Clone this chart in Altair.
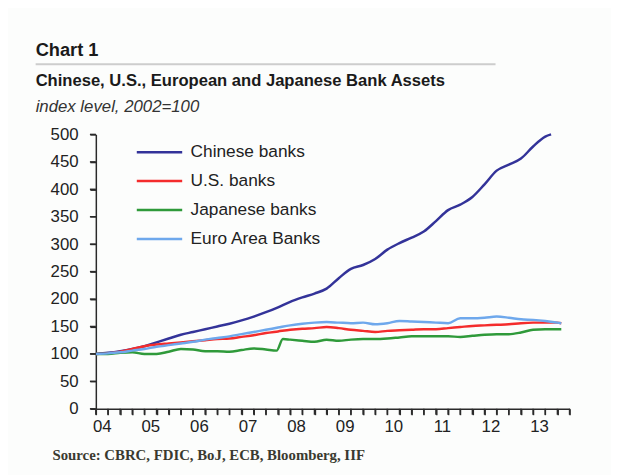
import altair as alt
import pandas as pd

# ---- data (index level, 2002=100) ----
series_names = ["Chinese banks", "U.S. banks", "Japanese banks", "Euro Area Banks"]
series_colors = ["#333399", "#f42c2c", "#2f9a3a", "#6ea8ec"]

q_years = [2004 + 0.25 * i for i in range(39)]  # quarterly, 2004.00 .. 2013.50

chinese_years = q_years[:38] + [2013.37]
chinese_vals = [100, 102, 105, 109, 114, 121, 128, 135, 140, 145, 150, 155,
                161, 168, 176, 185, 195, 203, 210, 219, 238, 255, 262, 273,
                290, 302, 312, 323, 342, 362, 372, 386, 409, 434, 445, 456,
                478, 496, 500]

us_years = q_years + [2013.58]
us_vals = [100, 101, 104, 109, 114, 117, 119, 121, 123, 125, 127, 128,
           131, 134, 138, 141, 144, 146, 147, 149, 147, 144, 142, 140,
           142, 143, 144, 145, 145, 147, 149, 151, 152, 153, 154, 156,
           157, 157, 157, 156]

japan_years = q_years[:15] + [2007.72, 2007.85] + q_years[16:] + [2013.58]
japan_vals = [100, 100, 102, 103, 100, 100, 104, 109, 108, 105, 105, 104,
              107, 110, 108, 106, 127, 126, 124, 122, 126, 124, 126, 127, 127,
              128, 130, 132, 132, 132, 132, 131, 133, 135, 136, 136, 139,
              144, 145, 145, 145]

euro_years = q_years + [2013.58]
euro_vals = [100, 101, 103, 106, 109, 113, 116, 119, 122, 126, 129, 132,
             136, 140, 144, 148, 152, 155, 157, 158, 157, 156, 157, 154,
             156, 160, 159, 158, 157, 156, 165, 165, 166, 168, 166, 163,
             162, 160, 157, 156]

y_ticks = [0, 50, 100, 150, 200, 250, 300, 350, 400, 450, 500]
x_ticks = [2004 + 0.25 * i for i in range(40)]

title_text = ["Chart 1"]
subtitle_text = ["Chinese, U.S., European and Japanese Bank Assets"]
unit_text = ["index level, 2002=100"]
source_text = ["Source: CBRC, FDIC, BoJ, ECB, Bloomberg, IIF"]

rows = []
for name, yrs, vals in [
    (series_names[0], chinese_years, chinese_vals),
    (series_names[1], us_years, us_vals),
    (series_names[2], japan_years, japan_vals),
    (series_names[3], euro_years, euro_vals),
]:
    for yr, v in zip(yrs, vals):
        rows.append({"series": name, "year": yr, "value": v})
df = pd.DataFrame(rows)

FONT = "Liberation Sans"
AX = "#2a2a2a"
H = 278

xscale = alt.Scale(domain=[2004, 2013.75], nice=False, zero=False)
yscale = alt.Scale(domain=[0, 500], nice=False)

# one axis definition shared by every layer, so the merged axis keeps it
x_axis = alt.Axis(values=x_ticks, title=None, grid=False,
                  ticks=True, tickSize=6, tickWidth=1.5, tickColor=AX,
                  domain=True, domainColor=AX, domainWidth=1.5,
                  labelPadding=4, labelOffset=6, labelOverlap=False,
                  labelFlush=False,
                  labelExpr="(datum.value % 1 == 0 && datum.value < 2013.9) ? slice(toString(datum.value), 2, 4) : ''")
y_axis = alt.Axis(values=y_ticks, title=None, grid=False,
                  ticks=True, tickSize=6, tickWidth=1.5, tickColor=AX,
                  domain=True, domainColor=AX, domainWidth=1.5,
                  labelPadding=12, labelOverlap=False)

lines = alt.Chart(df).mark_line(strokeWidth=2.5, interpolate="monotone").encode(
    x=alt.X("year:Q", scale=xscale, axis=x_axis),
    y=alt.Y("value:Q", scale=yscale, axis=y_axis),
    color=alt.Color("series:N",
                    scale=alt.Scale(domain=series_names, range=series_colors),
                    sort=series_names,
                    legend=alt.Legend(title=None, orient="none", legendX=40, legendY=8,
                                      symbolType="stroke", symbolSize=2116,
                                      symbolStrokeWidth=2.5, clipHeight=20,
                                      rowPadding=9.3, labelOffset=7,
                                      labelFontSize=17.5, labelFont=FONT,
                                      labelColor="#222222", padding=0)),
    detail="series:N",
)

# tick marks drawn through the same scales
xtick_marks = alt.Chart(pd.DataFrame({"v": x_ticks})).mark_tick(
    color=AX, thickness=1.5, size=6, orient="vertical", opacity=1).encode(
    x=alt.X("v:Q", scale=xscale, axis=x_axis), y=alt.value(H + 3))

ytick_marks = alt.Chart(pd.DataFrame({"v": y_ticks})).mark_tick(
    color=AX, thickness=1.5, size=6, orient="horizontal", opacity=1).encode(
    y=alt.Y("v:Q", scale=yscale, axis=y_axis), x=alt.value(-3))

title = alt.Chart(pd.DataFrame({"t": title_text})).mark_text(
    font=FONT, fontSize=18.5, fontWeight="bold", color="#1a1a1a",
    align="left", baseline="alphabetic").encode(
    text="t:N", x=alt.value(-61), y=alt.value(-79.5))

rule = alt.Chart(pd.DataFrame({"t": title_text})).mark_rule(
    color="#cdcdcd", strokeWidth=2).encode(
    x=alt.value(-61), x2=alt.value(405), y=alt.value(-71))

subtitle = alt.Chart(pd.DataFrame({"t": subtitle_text})).mark_text(
    font=FONT, fontSize=16.8, fontWeight="bold", color="#1a1a1a",
    align="left", baseline="alphabetic").encode(
    text="t:N", x=alt.value(-61), y=alt.value(-49))

unit = alt.Chart(pd.DataFrame({"t": unit_text})).mark_text(
    font=FONT, fontSize=17, fontStyle="italic", color="#333333",
    align="left", baseline="alphabetic").encode(
    text="t:N", x=alt.value(-61), y=alt.value(-23))

source = alt.Chart(pd.DataFrame({"t": source_text})).mark_text(
    font="Liberation Serif", fontSize=15, fontWeight="bold", color="#3a3a30",
    align="left", baseline="alphabetic").encode(
    text="t:N", x=alt.value(-44), y=alt.value(330))

chart = alt.layer(lines, xtick_marks, ytick_marks, title, rule, subtitle, unit,
                  source).properties(
    width=480, height=H,
    padding={"left": 89, "top": 125, "right": 42, "bottom": 64},
    autosize=alt.AutoSizeParams(type="none"),
    background="#fcfdfc",
).configure_view(strokeWidth=0).configure_axis(
    labelFont=FONT, labelFontSize=17, labelColor="#222222",
)

chart.save("out.html", embed_options={"renderer": "svg", "actions": False})
